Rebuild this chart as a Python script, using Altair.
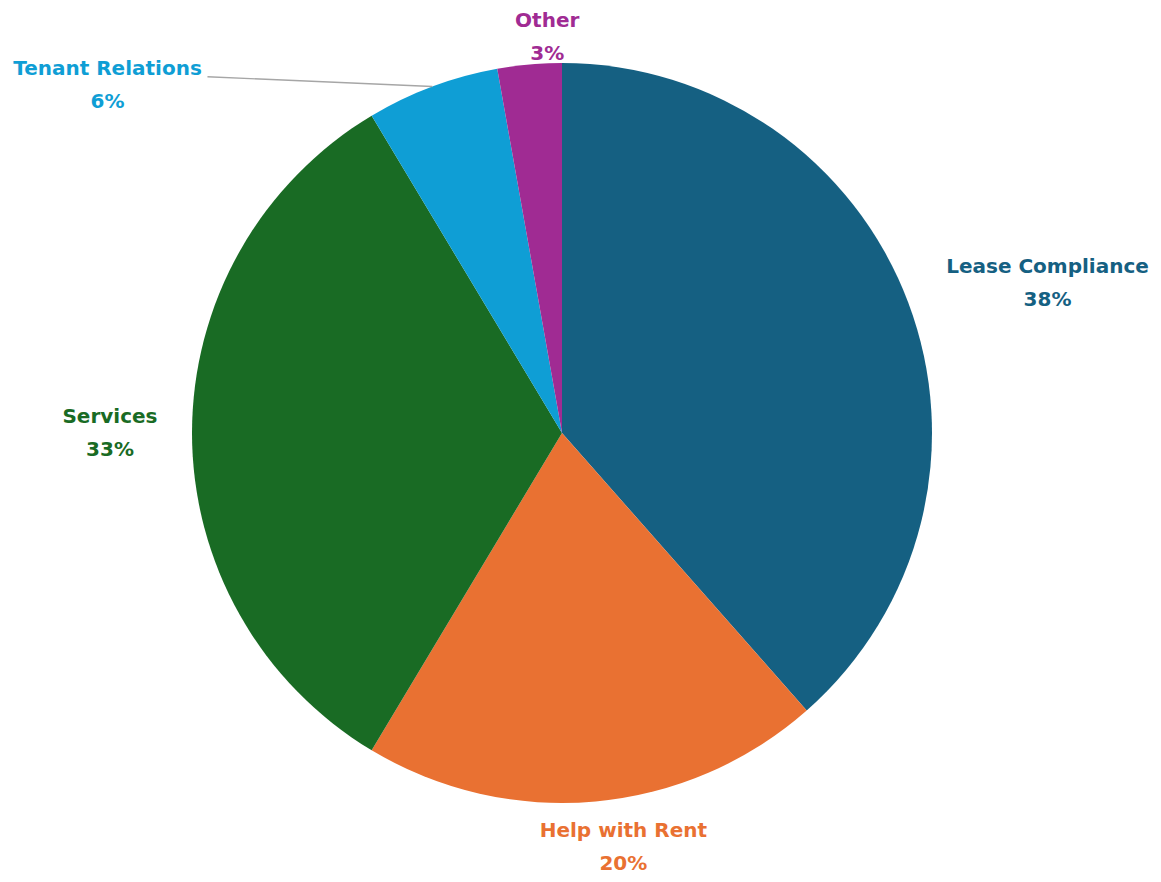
import math
import altair as alt
import pandas as pd

categories = ["Lease Compliance", "Help with Rent", "Services", "Tenant Relations", "Other"]
values = [38.5, 20.1, 32.8, 5.8, 2.8]
pct_labels = ["38%", "20%", "33%", "6%", "3%"]
colors = ["#156082", "#E97132", "#196B24", "#0F9ED5", "#A02B93"]

# layout
W, H = 1145, 866
CX, CY = 554, 425
R = 370
label_r = [508, 419, 452, 572, 396]
label_adj_deg = [3.6, -3.2, 0.0, -32.1, 2.9]
LINE_H = 33

total = sum(values)
cum = 0.0
mids = []
for v in values:
    mids.append((cum + v / 2) / total * 2 * math.pi)
    cum += v

df = pd.DataFrame({
    "category": categories,
    "value": values,
    "idx": list(range(len(categories))),
    "label": [f"{c}\n{p}" for c, p in zip(categories, pct_labels)],
    "lt": [m + math.radians(a) for m, a in zip(mids, label_adj_deg)],
    "lr": label_r,
})

color_scale = alt.Scale(domain=categories, range=colors)

arcs = alt.Chart(df).mark_arc(outerRadius=R, stroke=None).encode(
    theta=alt.Theta("value:Q", stack=True),
    order=alt.Order("idx:Q"),
    color=alt.Color("category:N", scale=color_scale, legend=None),
    x=alt.value(CX),
    y=alt.value(CY),
)

texts = alt.Chart(df).mark_text(
    font="DejaVu Sans", fontWeight="bold", fontSize=20, lineBreak="\n",
    lineHeight=LINE_H, align="center", baseline="middle", dy=-LINE_H / 2,
).encode(
    theta=alt.Theta("lt:Q", scale=None),
    radius=alt.Radius("lr:Q", scale=None),
    text="label:N",
    color=alt.Color("category:N", scale=color_scale, legend=None),
    x=alt.value(CX),
    y=alt.value(CY),
)

# leader line for Tenant Relations
t = categories.index("Tenant Relations")
lx = CX + label_r[t] * math.sin(df["lt"][t])
ly = CY - label_r[t] * math.cos(df["lt"][t])
leader_df = pd.DataFrame({
    "x": [CX + R * math.sin(mids[t])],
    "y": [CY - R * math.cos(mids[t])],
    "x2": [lx + 100],
    "y2": [ly - 9],
})
leader = alt.Chart(leader_df).mark_rule(color="#A6A6A6", strokeWidth=1.3).encode(
    x=alt.X("x:Q", scale=None),
    y=alt.Y("y:Q", scale=None),
    x2="x2:Q",
    y2="y2:Q",
)

chart = alt.layer(arcs, leader, texts).properties(
    width=W, height=H,
    autosize=alt.AutoSizeParams(type="none"),
    padding=0,
).configure_view(stroke=None)

chart.save("out.html", embed_options={"renderer": "svg", "actions": False})
